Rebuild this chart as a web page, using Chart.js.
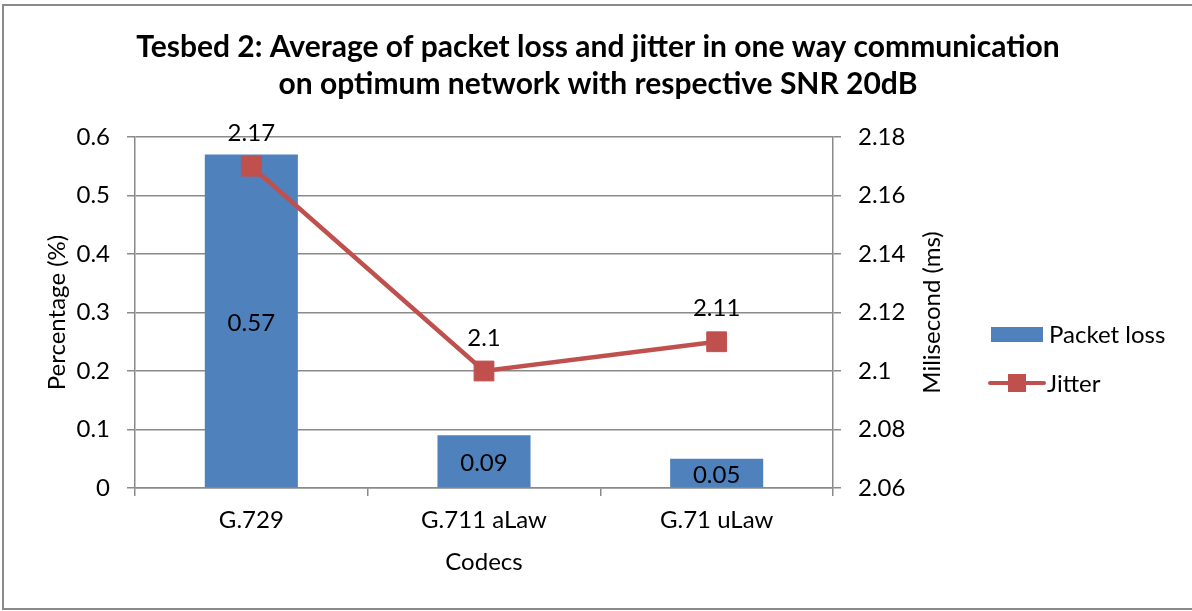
<!DOCTYPE html>
<html><head><meta charset="utf-8">
<script src="https://cdn.jsdelivr.net/npm/chart.js@4"></script>
<style>html,body{margin:0;padding:0;background:#fff}#wrap{width:1192px;height:611px;position:relative}canvas{display:block}</style>
</head><body><div id="wrap"><canvas id="c" width="1192" height="611"></canvas></div>
<script>
const categories = ['G.729', 'G.711 aLaw', 'G.71 uLaw'];
const packetLoss = [0.57, 0.09, 0.05];
const jitter = [2.17, 2.1, 2.11];
const leftTicks = [0, 0.1, 0.2, 0.3, 0.4, 0.5, 0.6];
const rightTicks = [2.06, 2.08, 2.1, 2.12, 2.14, 2.16, 2.18];
const titleLines = ['Tesbed 2: Average of packet loss and jitter in one way communication', 'on optimum network with respective SNR 20dB'];
const seriesNames = ['Packet loss', 'Jitter'];
const xTitle = 'Codecs';
const leftTitle = 'Percentage (%)';
const rightTitle = 'Milisecond (ms)';

const FONT = 'Lato';
const BLUE = '#4F81BD', RED = '#C0504D', GRID = '#8a8a8a';

const decor = {
  id: 'decor',
  beforeDraw(chart) {
    const ctx = chart.ctx;
    ctx.save();
    ctx.fillStyle = '#fff';
    ctx.fillRect(0, 0, chart.width, chart.height);
    ctx.strokeStyle = '#8a8a8a';
    ctx.lineWidth = 2;
    ctx.strokeRect(3, 5, chart.width + 20, 604);
    ctx.fillStyle = '#000';
    ctx.textAlign = 'center';
    ctx.textBaseline = 'alphabetic';
    ctx.font = 'bold 30px ' + FONT;
    ctx.fillText(titleLines[0], 598, 57);
    ctx.fillText(titleLines[1], 598, 94);
    // right axis title (reads bottom to top)
    ctx.textBaseline = 'middle';
    ctx.font = '24px ' + FONT;
    const a = chart.chartArea;
    ctx.translate(932, (a.top + a.bottom) / 2);
    ctx.rotate(-Math.PI / 2);
    ctx.fillText(rightTitle, 0, 0);
    ctx.restore();
  },
  afterDatasetsDraw(chart) {
    const ctx = chart.ctx;
    ctx.save();
    ctx.fillStyle = '#000';
    ctx.font = '24px ' + FONT;
    ctx.textAlign = 'center';
    ctx.textBaseline = 'middle';
    chart.getDatasetMeta(0).data.forEach((el, i) => {
      ctx.fillText(String(packetLoss[i]), el.x, (el.y + el.base) / 2 + 2);
    });
    chart.getDatasetMeta(1).data.forEach((el, i) => {
      ctx.fillText(String(jitter[i]), el.x, el.y - 33);
    });
    ctx.restore();
  },
  afterDraw(chart) {
    const ctx = chart.ctx;
    ctx.save();
    ctx.font = '24px ' + FONT;
    ctx.textBaseline = 'middle';
    ctx.textAlign = 'left';
    ctx.fillStyle = BLUE;
    ctx.fillRect(991, 327, 52, 15);
    ctx.fillStyle = '#000';
    ctx.fillText(seriesNames[0], 1049, 335);
    ctx.strokeStyle = RED;
    ctx.lineWidth = 4;
    ctx.lineCap = 'round';
    ctx.beginPath(); ctx.moveTo(990, 383); ctx.lineTo(1044, 383); ctx.stroke();
    ctx.fillStyle = RED;
    ctx.fillRect(1008, 374, 18, 18);
    ctx.fillStyle = '#000';
    ctx.fillText(seriesNames[1], 1047, 384);
    ctx.restore();
  }
};

new Chart(document.getElementById('c'), {
  data: {
    labels: categories,
    datasets: [
      { type: 'bar', label: seriesNames[0], data: packetLoss, backgroundColor: BLUE, yAxisID: 'y', order: 2,
        barPercentage: 0.4, categoryPercentage: 1.0 },
      { type: 'line', label: seriesNames[1], data: jitter, borderColor: RED, backgroundColor: RED, borderWidth: 4.5,
        yAxisID: 'y1', order: 1, tension: 0, pointStyle: 'rect', pointRadius: 14, pointBackgroundColor: RED,
        pointBorderColor: RED, pointBorderWidth: 1 }
    ]
  },
  options: {
    responsive: false,
    animation: false,
    events: [],
    layout: { padding: { left: 0, right: 240, top: 137, bottom: 0 } },
    plugins: { legend: { display: false }, title: { display: false }, tooltip: { enabled: false } },
    scales: {
      x: {
        type: 'category',
        offset: true,
        grid: { offset: true, drawOnChartArea: false, drawTicks: true, tickLength: 8, color: GRID, lineWidth: 1.5 },
        border: { display: true, color: GRID, width: 1.5 },
        ticks: { color: '#000', font: { family: FONT, size: 24 }, padding: 10, maxRotation: 0 },
        title: { display: true, text: xTitle, color: '#000', font: { family: FONT, size: 24 }, padding: { top: 0, bottom: 34 } },
        afterFit(s) { s.height = 123; }
      },
      y: {
        position: 'left',
        min: 0, max: 0.6,
        afterBuildTicks(s) { s.ticks = leftTicks.map(v => ({ value: v })); },
        ticks: { color: '#000', font: { family: FONT, size: 24 }, padding: 17, callback: v => String(v) },
        grid: { color: GRID, lineWidth: 1.5, tickLength: 8, drawTicks: true },
        border: { display: true, color: GRID, width: 1.5 },
        title: { display: true, text: leftTitle, color: '#000', font: { family: FONT, size: 24 }, padding: { top: 43, bottom: 0 } },
        afterFit(s) { s.width = 135; }
      },
      y1: {
        position: 'right',
        min: 2.06, max: 2.18,
        afterBuildTicks(s) { s.ticks = rightTicks.map(v => ({ value: v })); },
        ticks: { color: '#000', font: { family: FONT, size: 24 }, padding: 17, callback: v => String(v) },
        grid: { drawOnChartArea: false, color: GRID, lineWidth: 1.5, tickLength: 8, drawTicks: true },
        border: { display: true, color: GRID, width: 1.5 },
        afterFit(s) { s.width = 119; }
      }
    }
  },
  plugins: [decor]
});
</script>
</body></html>
